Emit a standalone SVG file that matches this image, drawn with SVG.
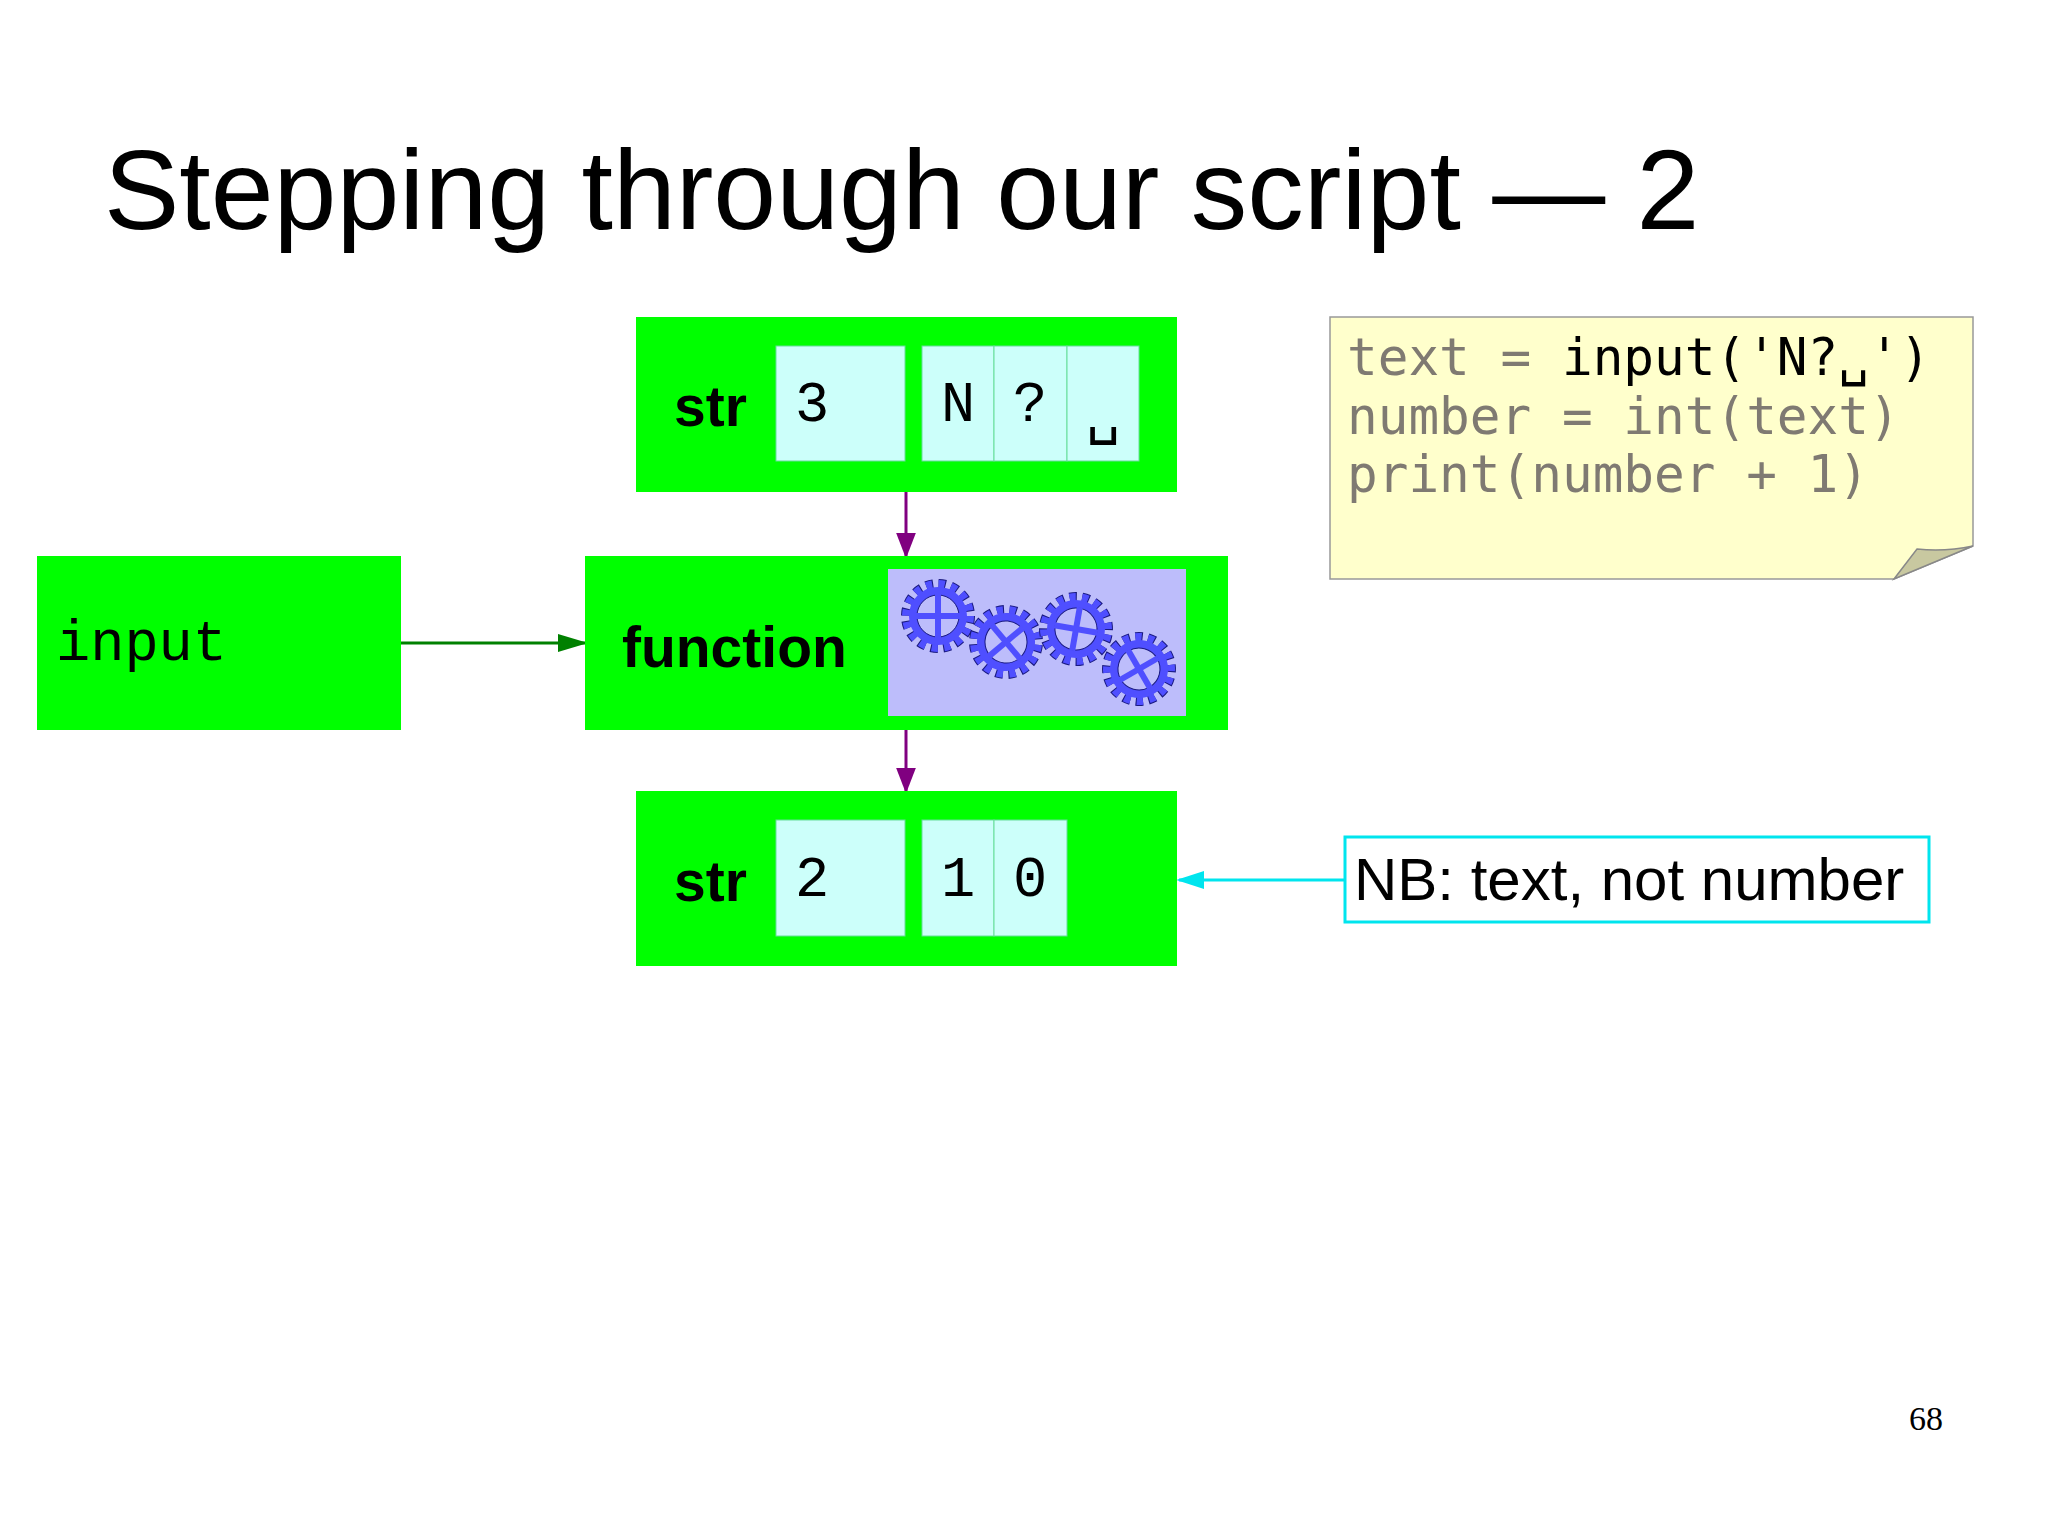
<svg xmlns="http://www.w3.org/2000/svg" width="2048" height="1535" viewBox="0 0 2048 1535">
<style>
.box{fill:#00ff00}
.cell{fill:#ccfffa;stroke:#66dd99;stroke-width:1}
.lbl{font-family:"Liberation Sans",sans-serif;font-weight:bold;font-size:57px;fill:#000}
.mono{font-family:"Liberation Mono","DejaVu Sans Mono",monospace;font-size:57px;fill:#000}
.code{font-family:"DejaVu Sans Mono","Liberation Mono",monospace;font-size:51px;fill:#7f7a72}
</style>
<defs>
<marker id="ag" viewBox="0 0 10 10" refX="9" refY="5" markerWidth="30" markerHeight="18" orient="auto" markerUnits="userSpaceOnUse" preserveAspectRatio="none"><path d="M0,0L10,5L0,10z" fill="#008000"/></marker>
<marker id="apu" viewBox="0 0 10 10" refX="9" refY="5" markerWidth="26" markerHeight="20" orient="auto" markerUnits="userSpaceOnUse" preserveAspectRatio="none"><path d="M0,0L10,5L0,10z" fill="#800080"/></marker>
<marker id="ac" viewBox="0 0 10 10" refX="9" refY="5" markerWidth="28" markerHeight="18" orient="auto" markerUnits="userSpaceOnUse" preserveAspectRatio="none"><path d="M0,0L10,5L0,10z" fill="#00e5ee"/></marker>
<g id="gear">
<circle r="31" fill="none" stroke="#1a1a80" stroke-width="12" stroke-dasharray="7 5.2"/>
<circle r="31" fill="none" stroke="#4f4fff" stroke-width="10" stroke-dasharray="6 6.2"/>
<circle r="25" fill="none" stroke="#4f4fff" stroke-width="8"/>
<circle r="21" fill="none" stroke="#1a1a80" stroke-width="1"/>
<line x1="-22" y1="0" x2="22" y2="0" stroke="#4f4fff" stroke-width="6"/>
<line x1="0" y1="-22" x2="0" y2="22" stroke="#4f4fff" stroke-width="6"/>
</g>
</defs>
<rect width="2048" height="1535" fill="#fff"/>
<text x="104" y="229" font-family="Liberation Sans,sans-serif" font-size="113" fill="#000">Stepping through our script — 2</text>

<g id="connectors">
<line x1="401" y1="643" x2="585" y2="643" stroke="#008000" stroke-width="3" marker-end="url(#ag)"/>
<line x1="906" y1="492" x2="906" y2="556" stroke="#800080" stroke-width="3" marker-end="url(#apu)"/>
<line x1="906" y1="730" x2="906" y2="791" stroke="#800080" stroke-width="3" marker-end="url(#apu)"/>
<line x1="1345" y1="880" x2="1179" y2="880" stroke="#00e5ee" stroke-width="3" marker-end="url(#ac)"/>
</g>

<g id="str-top">
<rect class="box" x="636" y="317" width="541" height="175"/>
<text class="lbl" x="674" y="426">str</text>
<rect class="cell" x="776" y="346" width="129" height="115"/>
<rect class="cell" x="922" y="346" width="72" height="115"/>
<rect class="cell" x="994" y="346" width="73" height="115"/>
<rect class="cell" x="1067" y="346" width="72" height="115"/>
<text class="mono" x="795" y="421">3</text>
<text class="mono" x="941" y="421">N</text>
<text class="mono" x="1013" y="421">?</text>
<text class="mono" x="1086" y="432" font-size="44">␣</text>
</g>

<g id="input">
<rect class="box" x="37" y="556" width="364" height="174"/>
<text class="mono" x="56" y="660" font-size="66">input</text>
</g>

<g id="function">
<rect class="box" x="585" y="556" width="643" height="174"/>
<text class="lbl" x="622" y="667" font-size="60">function</text>
<rect x="888" y="569" width="298" height="147" fill="#bdbdfb"/>
<use href="#gear" x="938" y="616"/>
<use href="#gear" x="1006" y="642" transform="rotate(-40 1006 642)"/>
<use href="#gear" x="1076" y="629" transform="rotate(10 1076 629)"/>
<use href="#gear" x="1139" y="669" transform="rotate(-30 1139 669)"/>
</g>

<g id="str-bottom">
<rect class="box" x="636" y="791" width="541" height="175"/>
<text class="lbl" x="674" y="901">str</text>
<rect class="cell" x="776" y="820" width="129" height="116"/>
<rect class="cell" x="922" y="820" width="72" height="116"/>
<rect class="cell" x="994" y="820" width="73" height="116"/>
<text class="mono" x="795" y="896">2</text>
<text class="mono" x="941" y="896">1</text>
<text class="mono" x="1013" y="896">0</text>
</g>

<g id="nb">
<rect x="1345" y="837" width="584" height="85" fill="#fff" stroke="#00e5ee" stroke-width="3"/>
<text x="1354" y="900" font-family="Liberation Sans,sans-serif" font-size="60" fill="#000">NB: text, not number</text>
</g>

<g id="note">
<path d="M1330,317H1973V546L1894,579H1330z" fill="#ffffcc" stroke="#999" stroke-width="1.5"/>
<path d="M1894,579L1917,549Q1945,552 1973,546z" fill="#c8c8a0" stroke="#888" stroke-width="1.5"/>
<text class="code" x="1347" y="375"><tspan>text = </tspan><tspan fill="#000">input('N?␣')</tspan></text>
<text class="code" x="1347" y="434">number = int(text)</text>
<text class="code" x="1347" y="492">print(number + 1)</text>
</g>

<text x="1909" y="1430" font-family="Liberation Serif,serif" font-size="34" fill="#000">68</text>
</svg>
